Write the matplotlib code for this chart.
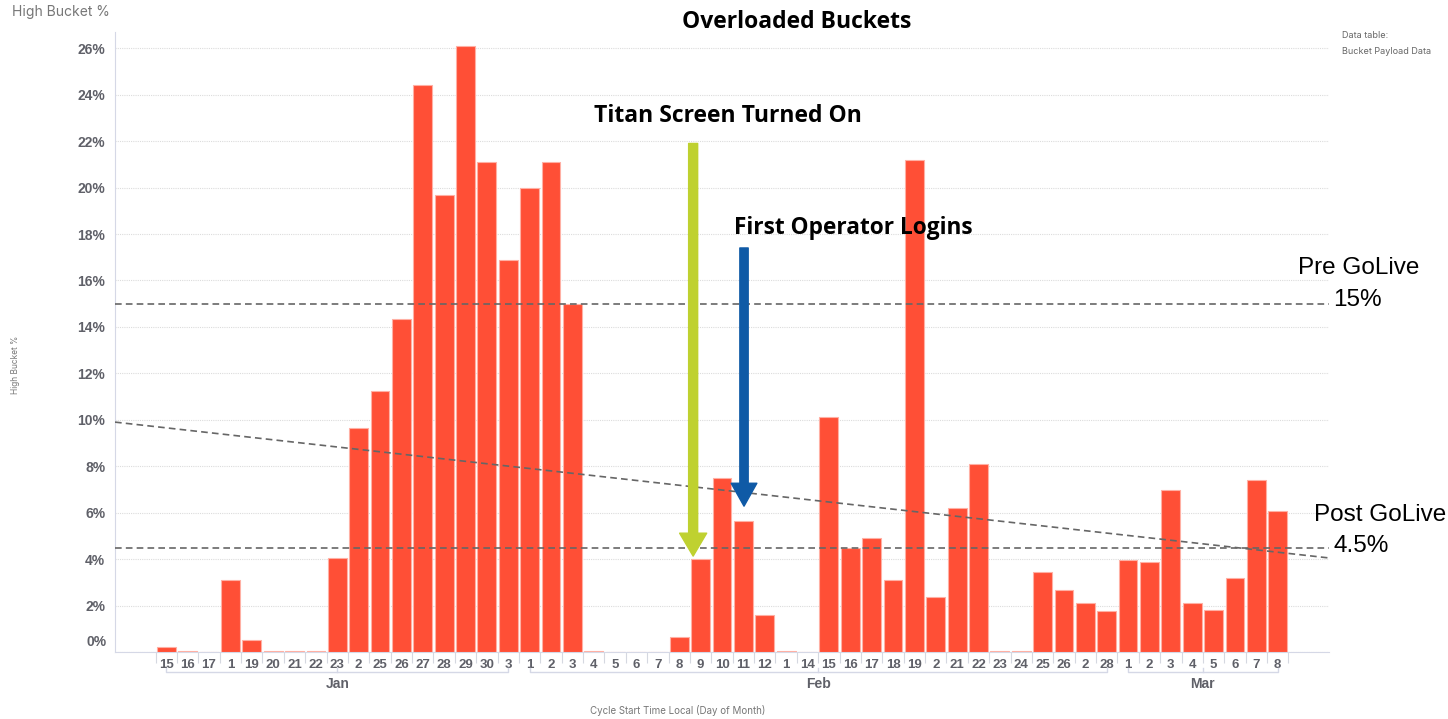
import matplotlib.pyplot as plt
import numpy as np

# dias (rótulos como aparecem no eixo)
dias = ["15", "16", "17", "1", "19", "20", "21", "22", "23", "2", "25", "26", "27", "28", "29", "30", "3",
        "1", "2", "3", "4", "5", "6", "7", "8", "9", "10", "11", "12", "1", "14", "15", "16", "17", "18",
        "19", "2", "21", "22", "23", "24", "25", "26", "2", "28",
        "1", "2", "3", "4", "5", "6", "7", "8"]
high_bucket = [0.2, 0.05, 0.0, 3.1, 0.5, 0.05, 0.05, 0.05, 4.05, 9.65, 11.25, 14.35, 24.4, 19.7, 26.1, 21.1, 16.9,
               20.0, 21.1, 15.0, 0.05, 0.0, 0.0, 0.0, 0.65, 4.0, 7.5, 5.65, 1.6, 0.05, 0.0, 10.1, 4.5, 4.9, 3.1,
               21.2, 2.35, 6.2, 8.1, 0.05, 0.05, 3.45, 2.65, 2.1, 1.78,
               3.97, 3.87, 6.98, 2.1, 1.8, 3.2, 7.4, 6.08]
meses = ["Jan", "Feb", "Mar"]
inicio_mes = [0, 17, 45]
fim_mes = [16, 44, 52]

pre_golive = 15.0
post_golive = 4.5
tendencia = (9.9, 4.05)
titan_on = (24.65, 21.9, 4.13)      # x, y inicio, y fim
first_login = (27.03, 17.4, 6.28)

cinza = "#5f6068"
fig = plt.figure(figsize=(14.48, 7.19), dpi=100)
W, H = 1448, 719
ax = fig.add_axes([115 / W, (H - 652) / H, (1329 - 115) / W, (652 - 32) / H])

x = np.arange(len(dias))
ax.bar(x, high_bucket, width=0.88, color="#ff4f36", edgecolor="#ffb0a4", linewidth=0.8, zorder=3)

ax.set_xlim(-2.4, 54.4)
ax.set_ylim(0, 26.7)
yt = np.arange(0, 27, 2)
ax.set_yticks(yt)
ax.set_yticklabels(["" if v == 0 else f"{v}%" for v in yt], fontsize=10, fontweight="bold", color=cinza,
                   family="Liberation Sans")
ax.tick_params(axis="y", length=0, pad=7)
ax.grid(axis="y", color="#dcdcdc", linestyle=(0, (1, 1)), linewidth=0.8, zorder=0)
# o rótulo 0% fica um pouco acima da base
fig.text(107 / W, 1 - 642 / H, "0%", ha="right", va="center", fontsize=10, fontweight="bold", color=cinza,
         family="Liberation Sans")

ax.set_xticks(x)
ax.set_xticklabels(dias, fontsize=9.5, fontweight="bold", color=cinza, family="Liberation Sans")
ax.tick_params(axis="x", length=0, pad=5)
ax.set_xticks(np.arange(-0.5, len(dias), 1), minor=True)
ax.tick_params(axis="x", which="minor", length=8, color="#d5d8e0", width=0.8)

for s in ["top", "right"]:
    ax.spines[s].set_visible(False)
ax.spines["left"].set_color("#d5d8e6")
ax.spines["bottom"].set_color("#d5d8e6")

# chaves dos meses
tr = ax.get_xaxis_transform()
yb = -20 / 620
for nome, a, b in zip(meses, inicio_mes, fim_mes):
    ax.plot([a, a, b, b], [yb + 0.006, yb, yb, yb + 0.006], color="#d5d8e6", lw=1, transform=tr, clip_on=False)
    m = (a + b) / 2
    ax.plot([m, m], [yb, yb + 0.006], color="#d5d8e6", lw=1, transform=tr, clip_on=False)
    ax.text(m, -32 / 620, nome, transform=tr, ha="center", va="center", fontsize=10, fontweight="bold",
            color=cinza, family="Liberation Sans")

# linhas de referência
ax.axhline(pre_golive, color="#666666", lw=1.2, linestyle=(0, (4, 2.5)), zorder=4)
ax.axhline(post_golive, color="#666666", lw=1.2, linestyle=(0, (4, 2.5)), zorder=4)
ax.plot(ax.get_xlim(), tendencia, color="#666666", lw=1.2, linestyle=(0, (4, 2.5)), zorder=4)

# setas
ax.annotate("", xy=(titan_on[0], titan_on[2]), xytext=(titan_on[0], titan_on[1]),
            arrowprops=dict(arrowstyle="simple,head_length=16.5,head_width=19.5,tail_width=6.5",
                            mutation_scale=1, color="#bfd130", shrinkA=0, shrinkB=0), zorder=5)
ax.annotate("", xy=(first_login[0], first_login[2]), xytext=(first_login[0], first_login[1]),
            arrowprops=dict(arrowstyle="simple,head_length=16.5,head_width=18.5,tail_width=6",
                            mutation_scale=1, color="#0f5aa6", shrinkA=0, shrinkB=0), zorder=5)

# textos
fig.text(797 / W, 1 - 22 / H, "Overloaded Buckets", ha="center", va="center", fontsize=16.5,
         fontweight="bold", family="Open Sans")
fig.text(728 / W, 1 - 116 / H, "Titan Screen Turned On", ha="center", va="center", fontsize=16.5,
         fontweight="bold", family="Open Sans")
fig.text(853 / W, 1 - 228 / H, "First Operator Logins", ha="center", va="center", fontsize=16.3,
         fontweight="bold", family="Open Sans")
fig.text(1359 / W, 1 - 268 / H, "Pre GoLive", ha="center", va="center", fontsize=17.5, family="Liberation Sans")
fig.text(1333 / W, 1 - 300 / H, "15%", ha="left", va="center", fontsize=17.5, family="Liberation Sans")
fig.text(1380 / W, 1 - 515 / H, "Post GoLive", ha="center", va="center", fontsize=17.5, family="Liberation Sans")
fig.text(1333 / W, 1 - 546 / H, "4.5%", ha="left", va="center", fontsize=17.5, family="Liberation Sans")

fig.text(12 / W, 1 - 12 / H, "High Bucket %", ha="left", va="center", fontsize=10, color="#777777",
         family="Inter")
fig.text(1342 / W, 1 - 35 / H, "Data table:", ha="left", va="center", fontsize=6.5, color="#666666",
         family="Inter")
fig.text(1342 / W, 1 - 52 / H, "Bucket Payload Data", ha="left", va="center", fontsize=6.5, color="#666666",
         family="Inter")
fig.text(15 / W, 1 - 365 / H, "High Bucket %", ha="center", va="center", rotation=90, fontsize=6,
         color="#777777", family="Inter")
fig.text(678 / W, 1 - 711 / H, "Cycle Start Time Local (Day of Month)", ha="center", va="center",
         fontsize=7, color="#777777", family="Inter")

fig.savefig("out.png", dpi=100)
